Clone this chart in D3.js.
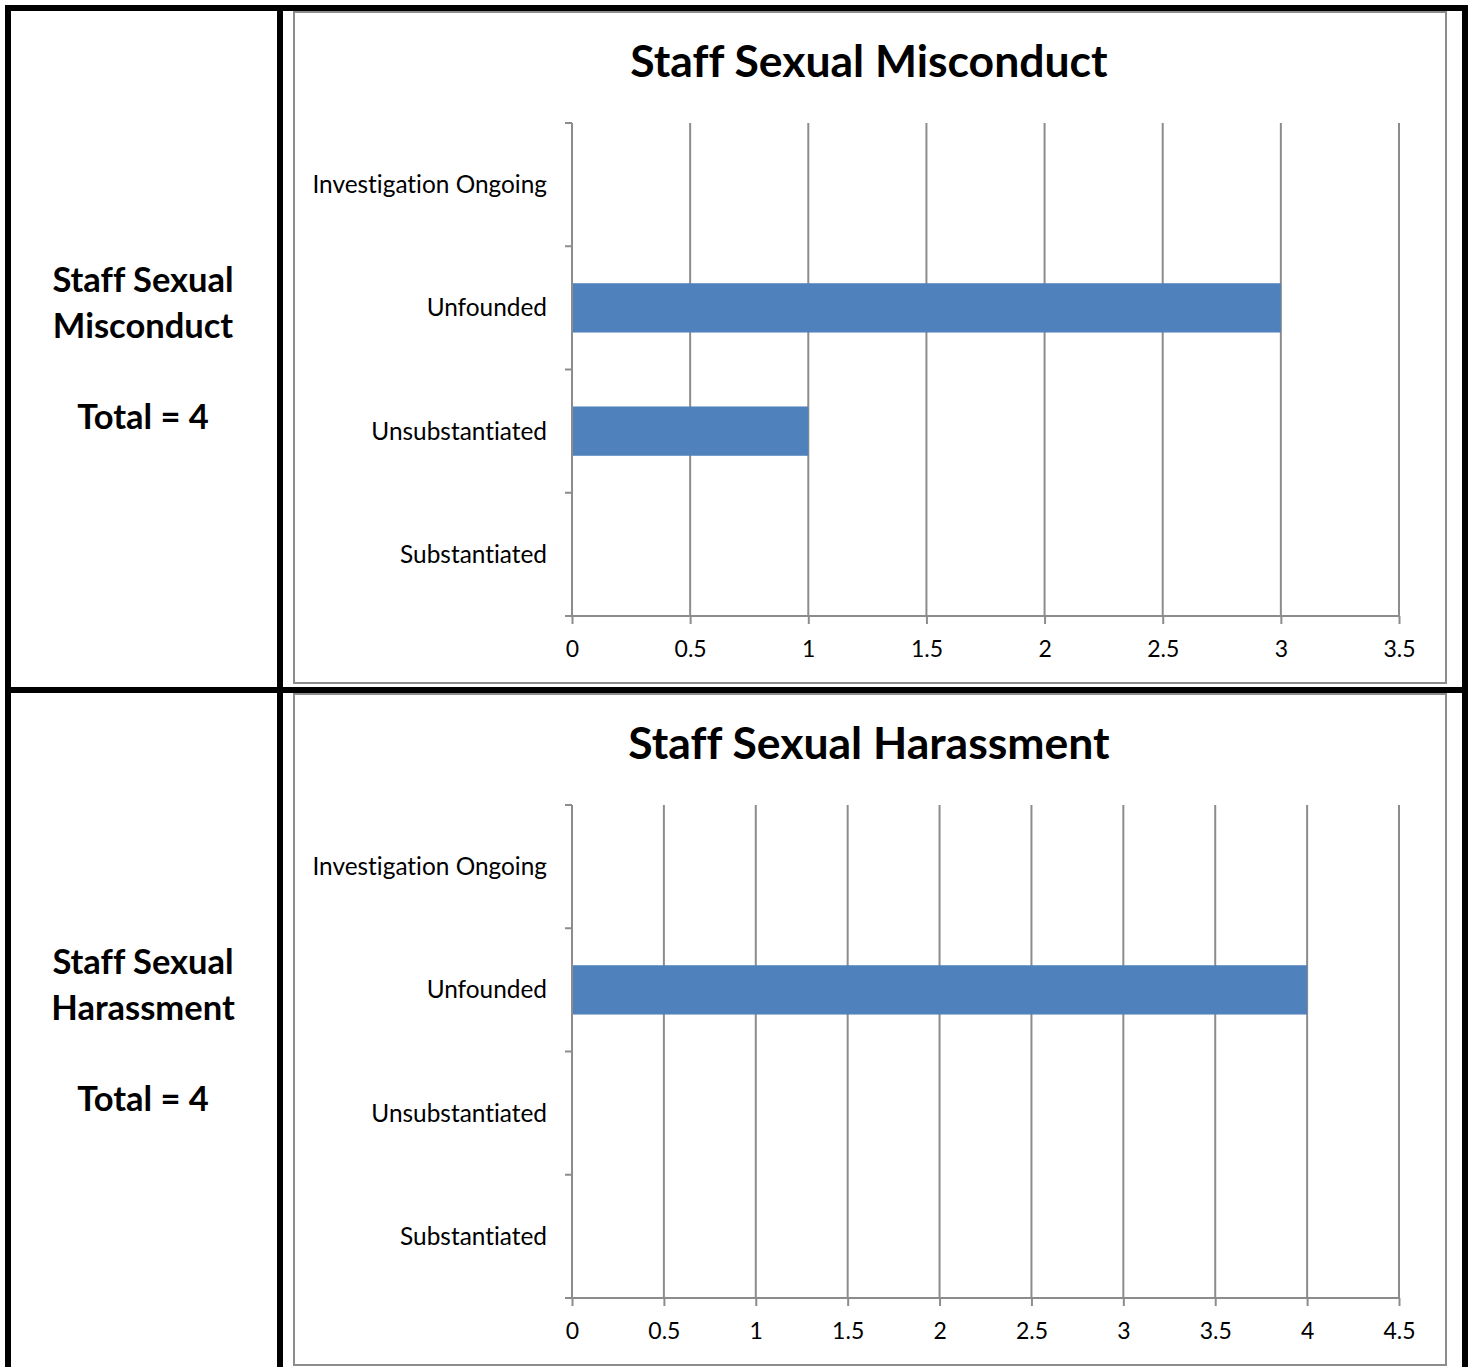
<!DOCTYPE html>
<html>
<head>
<meta charset="utf-8">
<script src="https://cdn.jsdelivr.net/npm/d3@7"></script>
<style>
  html, body { margin: 0; padding: 0; background: #fff; }
  svg { display: block; }
  text { font-family: Lato, "Open Sans", sans-serif; fill: #000; font-variant-ligatures: none; }
</style>
</head>
<body>
<svg id="page" width="1468" height="1367"></svg>
<script>
// Outcome categories, listed top to bottom as they appear on the axis
const categories = ["Investigation Ongoing", "Unfounded", "Unsubstantiated", "Substantiated"];

// Counts per outcome
const misconductValues = [0, 3, 1, 0];
const harassmentValues = [0, 4, 0, 0];

// Axis ticks for each panel
const misconductTicks = [0, 0.5, 1, 1.5, 2, 2.5, 3, 3.5];
const harassmentTicks = [0, 0.5, 1, 1.5, 2, 2.5, 3, 3.5, 4, 4.5];

const panels = [
  { title: "Staff Sexual Misconduct", side: ["Staff Sexual", "Misconduct"], total: 4,
    values: misconductValues, ticks: misconductTicks },
  { title: "Staff Sexual Harassment", side: ["Staff Sexual", "Harassment"], total: 4,
    values: harassmentValues, ticks: harassmentTicks }
];

const svg = d3.select("#page");
const W = 1468, H = 1367;
const rowH = 682;
const gridColor = "#8c8c8c";
const barColor = "#4f81bd";

panels.forEach((p, i) => {
  const oy = i * rowH;
  const g = svg.append("g").attr("transform", `translate(0,${oy})`);

  // chart frame
  g.append("rect")
    .attr("x", 294).attr("y", 12)
    .attr("width", 1152).attr("height", 671)
    .attr("fill", "none").attr("stroke", "#8c8c8c").attr("stroke-width", 2);

  // side label
  const side = g.append("text").attr("text-anchor", "middle")
    .style("font-weight", 700).style("font-size", "34.5px");
  side.append("tspan").attr("x", 143).attr("y", 292).text(p.side[0]);
  side.append("tspan").attr("x", 143).attr("y", 338).text(p.side[1]);
  g.append("text").attr("text-anchor", "middle")
    .attr("x", 143).attr("y", 429)
    .style("font-weight", 700).style("font-size", "34.5px")
    .text(`Total = ${p.total}`);

  // title
  g.append("text").attr("text-anchor", "middle")
    .attr("x", 869).attr("y", 77)
    .style("font-weight", 700).style("font-size", "44.5px")
    .text(p.title);

  const x = d3.scaleLinear()
    .domain([0, p.ticks[p.ticks.length - 1]])
    .range([572, 1399]);
  const y = d3.scaleBand()
    .domain(categories)
    .range([123, 616])
    .paddingInner(0.6).paddingOuter(0.3);
  const yEdges = d3.scaleLinear().domain([0, categories.length]).range([123, 616]);

  // vertical gridlines
  g.append("g").selectAll("line").data(p.ticks.slice(1)).join("line")
    .attr("x1", d => x(d)).attr("x2", d => x(d))
    .attr("y1", 123).attr("y2", 616)
    .attr("stroke", gridColor).attr("stroke-width", 2);

  // bars
  g.append("g").selectAll("rect").data(categories).join("rect")
    .attr("x", x(0))
    .attr("y", d => y(d))
    .attr("width", (d, k) => x(p.values[k]) - x(0))
    .attr("height", y.bandwidth())
    .attr("fill", barColor);

  // x axis
  const xAxis = d3.axisBottom(x).tickValues(p.ticks)
    .tickFormat(d3.format("~g")).tickSize(8).tickSizeOuter(0).tickPadding(17);
  const xg = g.append("g").attr("transform", "translate(0,616)").call(xAxis);
  xg.select(".domain").attr("stroke", gridColor).attr("stroke-width", 2)
    .attr("d", `M${x(0) - 7},0H${x.range()[1]}`);
  xg.selectAll(".tick line").attr("stroke", gridColor).attr("stroke-width", 2);
  xg.selectAll(".tick text").style("font-size", "23px").attr("fill", "#000")
    .style("font-family", "Lato, sans-serif");

  // y axis line with boundary ticks
  g.append("line").attr("x1", x(0)).attr("x2", x(0)).attr("y1", 123).attr("y2", 616)
    .attr("stroke", gridColor).attr("stroke-width", 2);
  g.append("g").selectAll("line").data(d3.range(categories.length)).join("line")
    .attr("x1", x(0) - 7).attr("x2", x(0))
    .attr("y1", d => yEdges(d)).attr("y2", d => yEdges(d))
    .attr("stroke", gridColor).attr("stroke-width", 2);

  // category labels
  g.append("g").selectAll("text").data(categories).join("text")
    .attr("x", 547)
    .attr("y", d => y(d) + y.bandwidth() / 2)
    .attr("dy", "0.35em")
    .attr("text-anchor", "end")
    .style("font-size", "24.4px")
    .text(d => d);
});

// table borders
const border = svg.append("g").attr("fill", "#000");
border.append("rect").attr("x", 5).attr("y", 5).attr("width", W - 5).attr("height", 6);
border.append("rect").attr("x", 5).attr("y", 5).attr("width", 6).attr("height", H - 5);
border.append("rect").attr("x", 277).attr("y", 5).attr("width", 6).attr("height", H - 5);
border.append("rect").attr("x", 1462).attr("y", 5).attr("width", 6).attr("height", H - 5);
border.append("rect").attr("x", 5).attr("y", 687).attr("width", W - 5).attr("height", 6);
</script>
</body>
</html>
